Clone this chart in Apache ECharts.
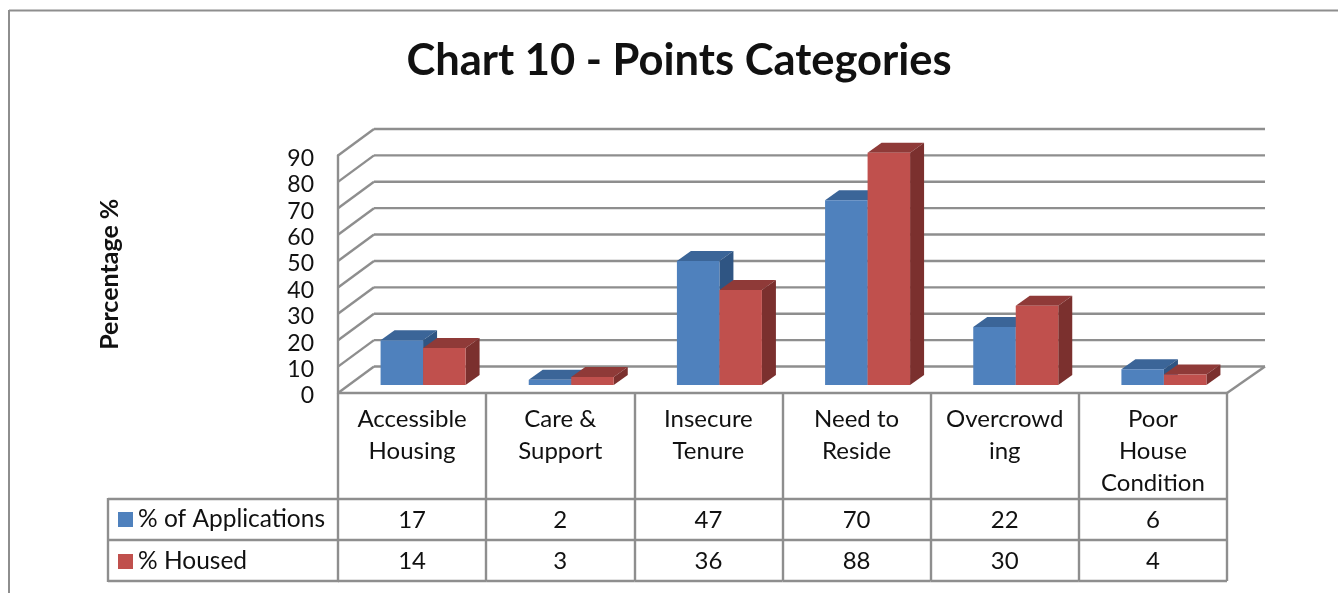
<!DOCTYPE html>
<html>
<head>
<meta charset="utf-8">
<title>Chart 10 - Points Categories</title>
<style>
  html, body { margin: 0; padding: 0; background: #fff; }
  #chart { width: 1338px; height: 593px; }
</style>
</head>
<body>
<div id="chart"></div>
<script src="https://cdn.jsdelivr.net/npm/echarts@6/dist/echarts.min.js"></script>
<script>
const categories = ['Accessible\nHousing', 'Care &\nSupport', 'Insecure\nTenure', 'Need to\nReside', 'Overcrowd\ning', 'Poor\nHouse\nCondition'];
const applications = [17, 2, 47, 70, 22, 6];
const housed = [14, 3, 36, 88, 30, 4];
const yTicks = [0, 10, 20, 30, 40, 50, 60, 70, 80, 90];

const FONT = 'Lato, "Open Sans", sans-serif';
const LINE = '#8e8e8e';
const WALL_DX = 36, WALL_DY = -26.5;   // depth of the back wall
const WALL_RIGHT_DX = 38;
const BAR_DX = 14, BAR_DY = -10;       // depth of one bar
const BAR_SHIFT_X = 11, BAR_SHIFT_Y = -8;
const BAR_W = 42.5;
const ROW1_Y = 499, ROW2_Y = 540, TABLE_BOTTOM = 581;

const chart = echarts.init(document.getElementById('chart'), null, { renderer: 'canvas' });

function poly(points, fill) {
  return { type: 'polygon', shape: { points }, style: { fill, stroke: null } };
}

function line(x1, y1, x2, y2, w) {
  return { type: 'line', shape: { x1, y1, x2, y2 }, style: { stroke: LINE, lineWidth: w || 2.4 } };
}

// walls and floor, one set of lines per y tick
function renderWall(params, api) {
  const v = api.value(0);
  const [x0, y] = api.coord([0, v]);
  const rs = params.coordSys;
  const xLeft = rs.x, xRight = rs.x + rs.width;
  const children = [
    line(xLeft, y, xLeft + WALL_DX, y + WALL_DY),
    line(xLeft + WALL_DX, y + WALL_DY, xRight + WALL_RIGHT_DX, y + WALL_DY)
  ];
  if (v === 0) {
    children.push(line(xRight, y, xRight + WALL_RIGHT_DX, y + WALL_DY));
    children.push(line(xLeft, y, xRight, y, 2.6));
  }
  return { type: 'group', children };
}

function barRenderer(side, front, top, dark) {
  return function (params, api) {
    const c = api.coord([api.value(0), api.value(1)]);
    const b = api.coord([api.value(0), 0]);
    const x1 = c[0] + BAR_SHIFT_X + (side < 0 ? -BAR_W : 0);
    const x2 = x1 + BAR_W;
    const yT = c[1] + BAR_SHIFT_Y, yB = b[1] + BAR_SHIFT_Y;
    return {
      type: 'group',
      children: [
        poly([[x1, yT], [x2, yT], [x2 + BAR_DX, yT + BAR_DY], [x1 + BAR_DX, yT + BAR_DY]], top),
        poly([[x2, yT], [x2 + BAR_DX, yT + BAR_DY], [x2 + BAR_DX, yB + BAR_DY], [x2, yB]], dark),
        poly([[x1, yT], [x2, yT], [x2, yB], [x1, yB]], front)
      ]
    };
  };
}

// data table under the plot: values are read straight from the series
function renderTable(params, api) {
  const i = api.value(0);
  const xc = api.coord([i, 0])[0];
  const rs = params.coordSys;
  const half = rs.width / categories.length / 2;
  const cell = (val, y) => ({
    type: 'text',
    style: { text: String(val), x: xc, y, align: 'center', verticalAlign: 'middle', font: '24px ' + FONT, fill: '#111' }
  });
  return {
    type: 'group',
    children: [
      line(xc - half, ROW1_Y, xc + half, ROW1_Y),
      line(xc - half, ROW2_Y, xc + half, ROW2_Y),
      line(xc - half, TABLE_BOTTOM, xc + half, TABLE_BOTTOM),
      cell(api.value(1), (ROW1_Y + ROW2_Y) / 2 + 1),
      cell(api.value(2), (ROW2_Y + TABLE_BOTTOM) / 2 + 1)
    ]
  };
}

const option = {
  animation: false,
  backgroundColor: '#fff',
  title: {
    text: 'Chart 10 - Points Categories',
    left: 674,
    top: 34,
    textAlign: 'center',
    textStyle: { fontFamily: FONT, fontSize: 43.5, fontWeight: 'bold', color: '#111' }
  },
  legend: {
    orient: 'vertical',
    left: 113,
    top: 502,
    itemWidth: 15,
    itemHeight: 15,
    itemGap: 17,
    icon: 'rect',
    data: ['% of Applications', '% Housed'],
    textStyle: { fontFamily: FONT, fontSize: 24.5, color: '#111' }
  },
  grid: { left: 338, right: 111, top: 155.5, bottom: 200 },
  xAxis: {
    type: 'category',
    data: categories,
    axisLine: { show: false },
    axisTick: { show: true, length: 188, alignWithLabel: false, lineStyle: { color: LINE, width: 2.4 } },
    axisLabel: { interval: 0, margin: 10, fontFamily: FONT, fontSize: 24, lineHeight: 32, color: '#111', verticalAlign: 'top' }
  },
  yAxis: {
    type: 'value',
    min: 0,
    max: 90,
    interval: 10,
    name: 'Percentage %',
    nameLocation: 'middle',
    nameGap: 216,
    nameRotate: 90,
    nameTextStyle: { fontFamily: FONT, fontSize: 25, fontWeight: 'bold', color: '#111' },
    axisLine: { show: true, lineStyle: { color: LINE, width: 2.4 } },
    axisTick: { show: false },
    splitLine: { show: false },
    axisLabel: { margin: 24, fontFamily: FONT, fontSize: 23, color: '#111', verticalAlign: 'top', lineHeight: 6 }
  },
  graphic: [
    { type: 'line', silent: true, shape: { x1: 9, y1: 10.5, x2: 1338, y2: 10.5 }, style: { stroke: LINE, lineWidth: 2 } },
    { type: 'line', silent: true, shape: { x1: 9, y1: 10, x2: 9, y2: 593 }, style: { stroke: LINE, lineWidth: 2 } },
    { type: 'line', silent: true, shape: { x1: 108, y1: 499, x2: 339, y2: 499 }, style: { stroke: LINE, lineWidth: 2.4 } },
    { type: 'line', silent: true, shape: { x1: 108, y1: 540, x2: 339, y2: 540 }, style: { stroke: LINE, lineWidth: 2.4 } },
    { type: 'line', silent: true, shape: { x1: 108, y1: 581, x2: 339, y2: 581 }, style: { stroke: LINE, lineWidth: 2.4 } },
    { type: 'line', silent: true, shape: { x1: 108, y1: 498, x2: 108, y2: 582 }, style: { stroke: LINE, lineWidth: 2.4 } }
  ],
  series: [
    {
      name: 'wall',
      type: 'custom',
      silent: true,
      z: 1,
      renderItem: renderWall,
      encode: { y: 0 },
      data: yTicks.map(v => [v])
    },
    {
      name: '% of Applications',
      type: 'custom',
      z: 2,
      itemStyle: { color: '#4F81BD' },
      renderItem: barRenderer(-1, '#4F81BD', '#3B6598', '#2F5583'),
      encode: { x: 0, y: 1 },
      data: applications.map((v, i) => [i, v])
    },
    {
      name: '% Housed',
      type: 'custom',
      z: 3,
      itemStyle: { color: '#C0504D' },
      renderItem: barRenderer(1, '#C0504D', '#8F3A38', '#7B302E'),
      encode: { x: 0, y: 1 },
      data: housed.map((v, i) => [i, v])
    },
    {
      name: 'table',
      type: 'custom',
      silent: true,
      z: 4,
      renderItem: renderTable,
      encode: { x: 0 },
      data: categories.map((c, i) => [i, applications[i], housed[i]])
    }
  ]
};

chart.setOption(option);
</script>
</body>
</html>
